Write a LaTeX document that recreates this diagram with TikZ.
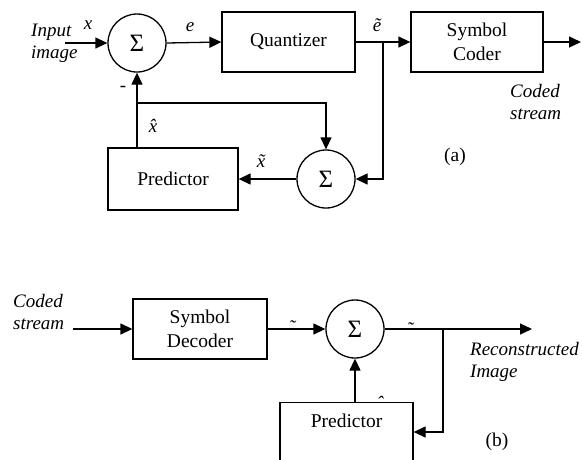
\documentclass[tikz,border=0pt]{standalone}
\usepackage{fontspec}
\setmainfont{Liberation Serif}
\usetikzlibrary{positioning,arrows.meta,calc}

\begin{document}
\begin{tikzpicture}[
  x=1pt, y=-1pt,
  font=\fontsize{19.5}{23.5}\selectfont,
  box/.style={draw, line width=1.3pt, align=center, inner sep=0pt},
  sumnode/.style={draw, circle, line width=1.3pt, minimum size=58pt, inner sep=0pt,
    font=\fontsize{25}{27}\selectfont},
  arr/.style={-{Triangle[length=12pt,width=11pt]}, line width=1.3pt},
  lbl/.style={font=\fontsize{19}{22.5}\selectfont\itshape, align=left, inner sep=0pt},
  sig/.style={inner sep=0pt, anchor=base, font=\fontsize{19}{22}\selectfont\itshape}
]
\useasboundingbox (0,0) rectangle (582,459);
\clip (0,0) rectangle (582,459);

% ---- encoder (a) ----
\node[sumnode] (sumA) at (137,43) {Σ};
\node[box, minimum width=133pt, minimum height=60pt] (quant) at (288.5,42) {Quantizer};
\node[box, minimum width=132pt, minimum height=60pt] (coder) at (477,42) {Symbol\\Coder};
\node[box, minimum width=130pt, minimum height=62pt] (predA) at (173,179) {Predictor};
\node[sumnode] (sumB) at (326,179) {Σ};

\node[lbl, anchor=west] (inp) at (31,43.5) {Input\\image};
\node[lbl, anchor=north west] (codedA) at (510,84) {Coded\\stream};
\node (tagA) at (455,157) {(a)};

\coordinate (inA) at (65,43);
\coordinate (outA) at (581,42);
\coordinate (tapA) at ($(quant.east)!0.5!(coder.west)$);
\coordinate (tapB) at (137,103);

% signal names
\node[sig] (xin) at (88,29) {x};
\node[sig] (err) at (190,31) {e};
\node[sig] (etil) at (377,31) {ẽ};
\node[sig] (xtil) at (261,167) {x̃};
\node[sig] (xhat) at (153,132) {x̂};
\node[sig, font=\fontsize{19}{22}\selectfont] (minus) at (123,91) {-};

\draw[arr] (inA) -- (sumA.west);
\draw[arr] (sumA.east) -- (quant.west);
\draw[arr] (quant.east) -- (coder.west);
\draw[arr] (coder.east) -- (outA);
\draw[arr] (tapA) |- (sumB.east);
\draw[arr] (sumB.west) -- (predA.east);
\draw[arr] (predA.north -| sumA) -- (sumA.south);
\draw[arr] (tapB) -| (sumB.north);

% ---- decoder (b) ----
\node[box, minimum width=134pt, minimum height=60pt] (decoder) at (200,329) {Symbol\\Decoder};
\node[sumnode] (sumC) at (355,329) {Σ};
\node[box, minimum width=133pt, minimum height=80pt, anchor=north,
  label={[anchor=north, inner sep=0pt, yshift=-12pt]north:Predictor}] (predB) at (346.5,402) {};

\node[lbl, anchor=north west] (codedB) at (13,294) {Coded\\stream};
\node[lbl, anchor=north west] (recon) at (470,342) {Reconstructed\\Image};
\node (tagB) at (497,442) {(b)};

\coordinate (inB) at (73,329);
\coordinate (outB) at (532,329);
\coordinate (tapC) at (443,329);

\draw[arr] (inB) -- (decoder.west);
\draw[arr] (decoder.east) -- (sumC.west);
\draw[arr] (sumC.east) -- (outB);
\draw[arr] (tapC) |- ($(predB.north east)+(0,30)$);
\draw[arr] (predB.north -| sumC) -- (sumC.south);
\node[sig] (tilA) at (292,333) {˜};
\node[sig] (tilB) at (410,335) {˜};
\node[sig] (hatB) at (380,409) {ˆ};
\end{tikzpicture}
\end{document}
